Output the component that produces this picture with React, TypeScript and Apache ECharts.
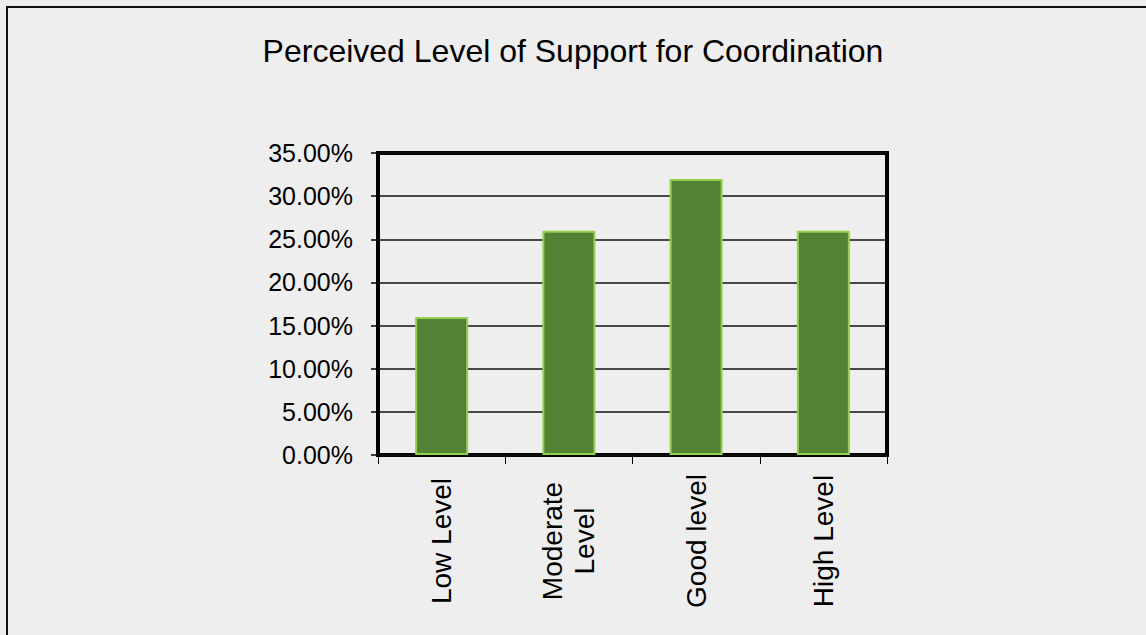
import React, { useEffect, useRef } from "react";
import * as echarts from "echarts";

const TITLE = "Perceived Level of Support for Coordination";
const categories = ["Low Level", "Moderate\nLevel", "Good level", "High Level"];
const supportPct = [16, 26, 32, 26];
const yMin = 0;
const yMax = 35;
const yStep = 5;

const FONT = "'Liberation Sans', Arial, sans-serif";

export default function App() {
  const ref = useRef<HTMLDivElement>(null);
  useEffect(() => {
    if (!ref.current) return;
    const chart = echarts.init(ref.current, null, { renderer: "svg" });
    chart.setOption({
      animation: false,
      backgroundColor: "#eeeeee",
      title: {
        text: TITLE,
        left: "center",
        top: 30,
        textStyle: { fontFamily: FONT, fontSize: 32, fontWeight: "normal", color: "#000" },
      },
      graphic: [
        {
          type: "rect",
          shape: { x: 7, y: 7, width: 1200, height: 700 },
          style: { fill: "none", stroke: "#111", lineWidth: 2 },
          silent: true,
        },
      ],
      grid: {
        left: 378,
        right: 259,
        top: 153,
        bottom: 180,
        show: true,
        borderColor: "#000",
        borderWidth: 4,
        backgroundColor: "transparent",
      },
      xAxis: {
        type: "category",
        data: categories,
        axisLine: { show: false },
        axisTick: { show: true, length: 9, lineStyle: { color: "#000", width: 1 } },
        axisLabel: {
          rotate: 90,
          align: "center",
          verticalAlign: "middle",
          margin: 86,
          fontFamily: FONT,
          fontSize: 28,
          lineHeight: 32,
          color: "#000",
          interval: 0,
        },
      },
      yAxis: {
        type: "value",
        min: yMin,
        max: yMax,
        interval: yStep,
        axisLine: { show: false },
        axisTick: { show: true, length: 7, lineStyle: { color: "#000", width: 1.5 } },
        axisLabel: {
          margin: 25,
          fontFamily: FONT,
          fontSize: 25,
          color: "#000",
          formatter: (v: number) => v.toFixed(2) + "%",
        },
        splitLine: { show: true, lineStyle: { color: "#111", width: 1.5 } },
      },
      series: [
        {
          type: "bar",
          data: supportPct,
          barWidth: 53,
          itemStyle: { color: "#548235", borderColor: "#92d050", borderWidth: 2 },
          z: 5,
        },
      ],
    });
    return () => chart.dispose();
  }, []);
  return (
    <div
      ref={ref}
      style={{ position: "absolute", left: 0, top: 0, width: 1146, height: 635 }}
    />
  );
}
